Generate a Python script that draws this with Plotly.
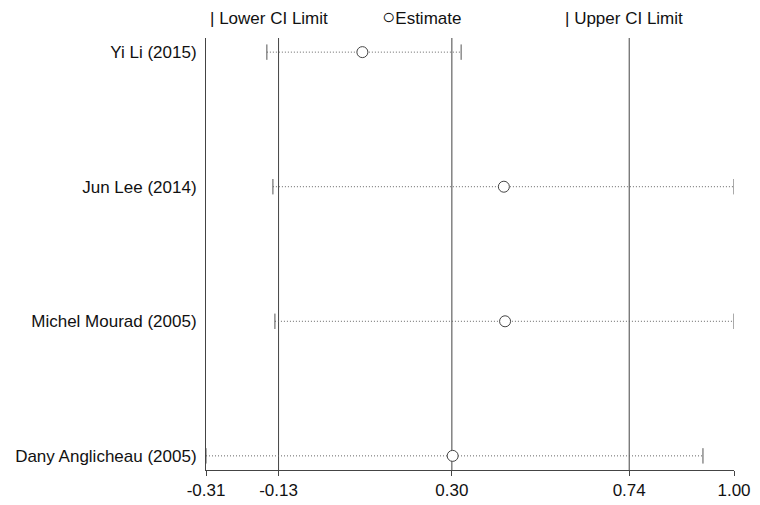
import plotly.graph_objects as go

studies = ["Yi Li (2015)", "Jun Lee (2014)", "Michel Mourad (2005)", "Dany Anglicheau (2005)"]
estimate = [0.078, 0.429, 0.432, 0.302]
lower_ci = [-0.159, -0.144, -0.139, -0.31]
upper_ci = [0.323, 1.00, 1.00, 0.923]

overall = [-0.13, 0.30, 0.74]          # combined lower CI, estimate, upper CI
x_ticks = [-0.31, -0.13, 0.30, 0.74, 1.00]
x_range = [-0.31, 1.00]

rows = list(range(1, len(studies) + 1))
FONT = "Liberation Sans, Arial, Helvetica, sans-serif"
LINE = "#444444"
FS = 17

fig = go.Figure()

# dotted CI lines
for r, lo, hi in zip(rows, lower_ci, upper_ci):
    fig.add_trace(go.Scatter(
        x=[lo, hi], y=[r, r], mode="lines",
        line=dict(color="#666666", width=1, dash="1px,2px"),
        showlegend=False, hoverinfo="skip"))

fig.add_trace(go.Scatter(
    x=lower_ci, y=rows, mode="markers", name="Lower CI Limit",
    marker=dict(symbol="line-ns", size=11, line=dict(color="#555555", width=1)),
    showlegend=False))
fig.add_trace(go.Scatter(
    x=upper_ci, y=rows, mode="markers", name="Upper CI Limit",
    marker=dict(symbol="line-ns", size=11, line=dict(color="#555555", width=1)),
    showlegend=False))
fig.add_trace(go.Scatter(
    x=estimate, y=rows, mode="markers", name="Estimate",
    marker=dict(symbol="circle", size=11, color="white", line=dict(color="#444444", width=1)),
    showlegend=False))

for v in overall:
    fig.add_shape(type="line", xref="x", yref="paper", x0=v, x1=v, y0=0, y1=1,
                  line=dict(color=LINE, width=1), layer="below")

legend_items = [("| Lower CI Limit", 0.003, 20),
                ("<span style='font-size:22px'>○</span>Estimate", 0.329, 22),
                ("| Upper CI Limit", 0.676, 20)]
for txt, xp, ys in legend_items:
    fig.add_annotation(text=txt, xref="paper", yref="paper", x=xp, y=1.0, yshift=ys,
                       xanchor="left", yanchor="middle", showarrow=False,
                       font=dict(family=FONT, size=FS, color="#111111"))

fig.update_layout(
    width=760, height=505,
    margin=dict(l=206, r=26, t=38, b=35, autoexpand=False),
    plot_bgcolor="white", paper_bgcolor="white",
    font=dict(family=FONT, size=FS, color="#111111"),
    showlegend=False,
    xaxis=dict(range=x_range, tickvals=x_ticks, ticktext=[f"{v:.2f}" for v in x_ticks],
               showgrid=False, zeroline=False, showline=True, linecolor=LINE, linewidth=1,
               ticks="outside", ticklen=5, tickcolor=LINE, tickfont=dict(size=FS),
               ticklabelstandoff=0, automargin=False),
    yaxis=dict(range=[4.105, 0.895], tickvals=rows, ticktext=studies,
               showgrid=False, zeroline=False, showline=True, linecolor=LINE, linewidth=1,
               ticks="", ticklabelstandoff=5, tickfont=dict(size=FS), automargin=False),
)

fig.write_html("out.html")
